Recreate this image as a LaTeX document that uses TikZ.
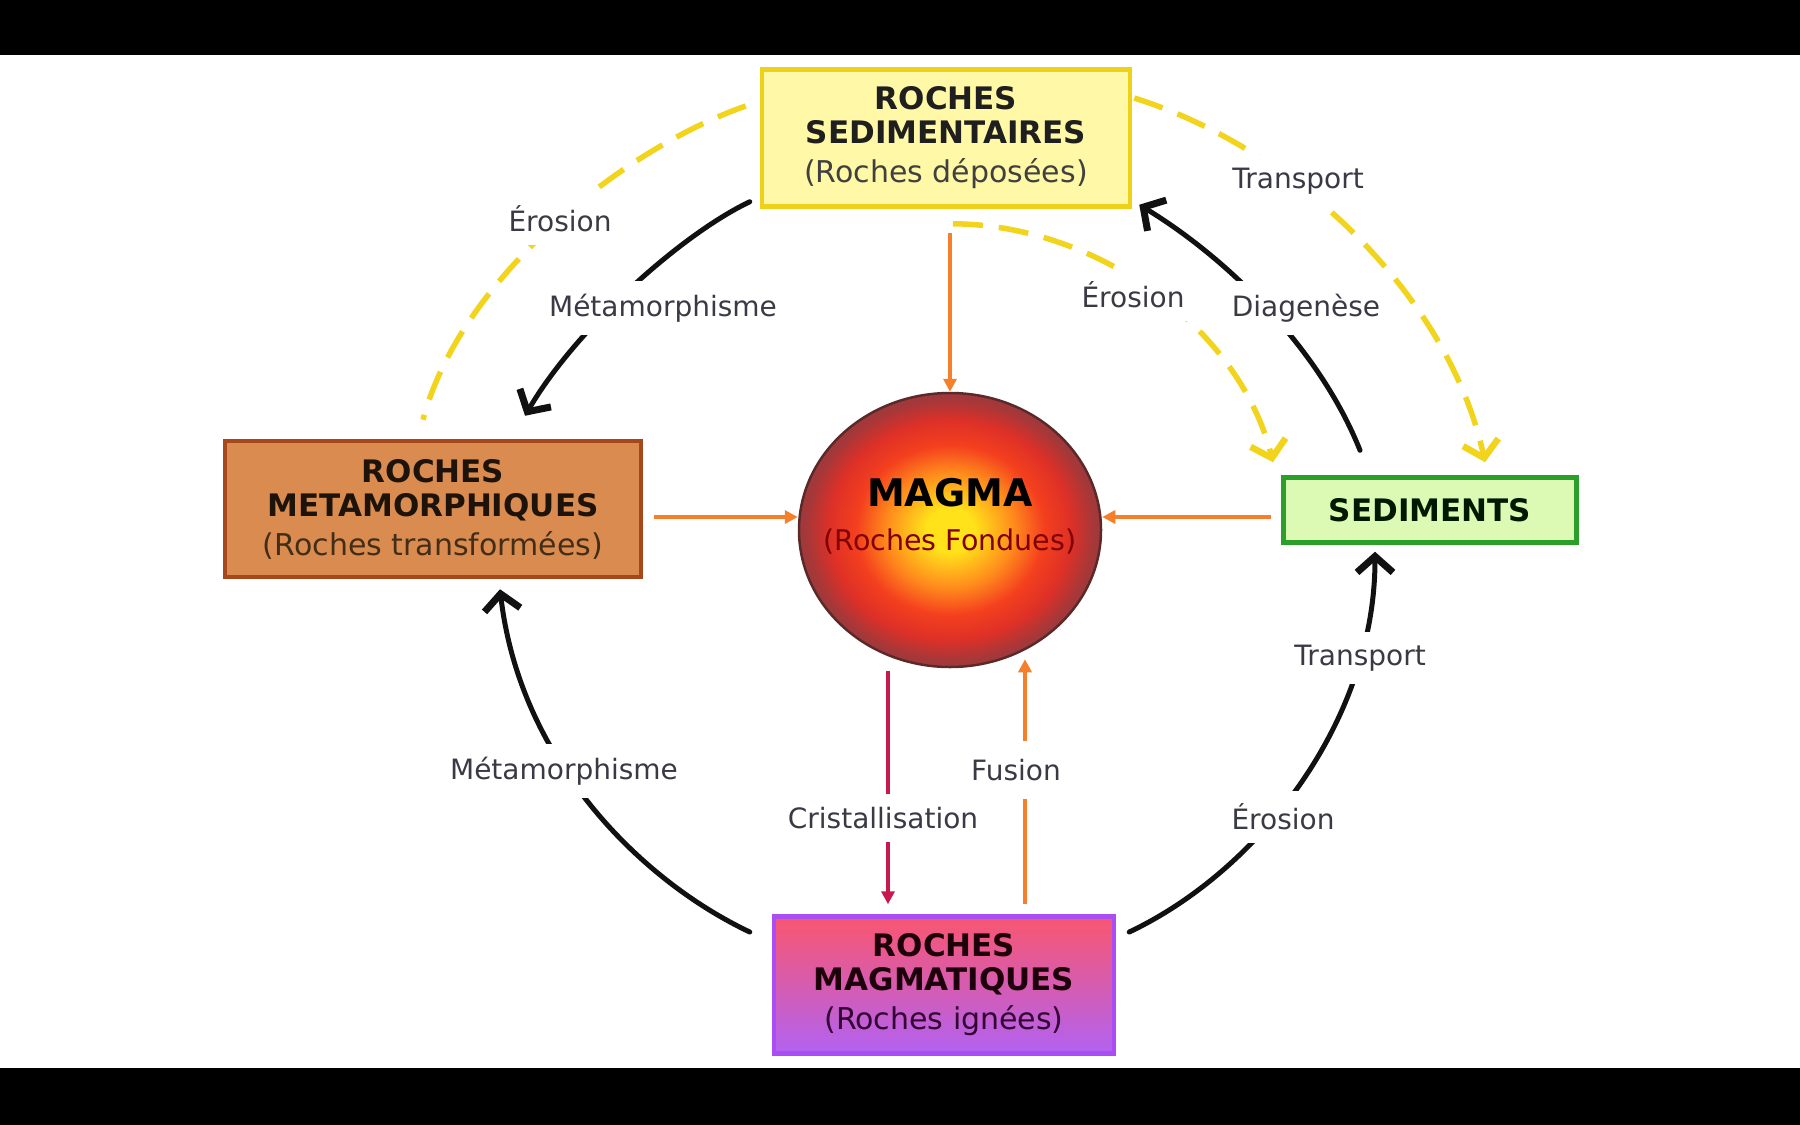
\documentclass[tikz,border=0pt]{standalone}
\usepackage{fontspec}
\setmainfont{DejaVu Sans}
\usetikzlibrary{shapes.geometric,arrows.meta,calc}
\definecolor{blk}{HTML}{111111}
\definecolor{yel}{HTML}{F2D41C}
\definecolor{org}{HTML}{F57F2A}
\definecolor{crim}{HTML}{C8194F}
\definecolor{labc}{HTML}{3A3A44}
\definecolor{sedfill}{HTML}{FFF8A6}
\definecolor{seddraw}{HTML}{EED21A}
\definecolor{metfill}{HTML}{DA8C50}
\definecolor{metdraw}{HTML}{A6481C}
\definecolor{sdfill}{HTML}{DCFAB4}
\definecolor{sddraw}{HTML}{2AA02A}
\definecolor{mgtop}{HTML}{F9566F}
\definecolor{mgmid}{HTML}{F0508F}
\definecolor{mgbot}{HTML}{B262F2}
\definecolor{mgdraw}{HTML}{A94EF5}
\definecolor{mY}{HTML}{FFE21A}
\definecolor{mO}{HTML}{FF8C1C}
\definecolor{mR}{HTML}{F4401E}
\definecolor{mR2}{HTML}{DE3027}
\definecolor{mD}{HTML}{A3383A}
\definecolor{mrim}{HTML}{5A2A2A}
\pgfdeclareradialshading{magmashade}{\pgfpoint{0bp}{0bp}}{color(0bp)=(mY); color(4bp)=(mY); color(10.5bp)=(mO); color(15.5bp)=(mR); color(20bp)=(mR2); color(24bp)=(mD); color(25bp)=(mD); color(50bp)=(mD)}
\newcommand{\ttlfont}{\fontsize{31}{34}\bfseries\selectfont}
\newcommand{\subfnt}{\fontsize{30}{34}\mdseries\selectfont}
\begin{document}
\begin{tikzpicture}[x=1pt,y=-1pt,
  lab/.style={fill=white, inner xsep=8pt, inner ysep=13pt, text=labc, font=\fontsize{28}{32}\selectfont},
  bk/.style={line width=5pt, draw=blk, line cap=round},
  bkarrow/.style={bk, -{Straight Barb[length=16pt,width=36pt,line width=7pt]}},
  yd/.style={line width=5.5pt, draw=yel, dash pattern=on 30pt off 16pt},
  ydarrow/.style={yd, -{Straight Barb[length=16pt,width=36pt,line width=6.5pt]}},
  oarrow/.style={line width=3.5pt, draw=org, -{Triangle[length=13pt,width=13pt]}},
  carrow/.style={line width=3.5pt, draw=crim, -{Triangle[length=13pt,width=13pt]}},
  rbox/.style={align=center, inner sep=0pt, line width=4.5pt, font=\ttlfont}
  ]
\useasboundingbox (0,0) rectangle (1800,1125);
\fill[white] (0,0) rectangle (1800,1125);
\fill[black] (0,0) rectangle (1800,55);
\fill[black] (0,1068) rectangle (1800,1125);

% boxes
\node[rbox, draw=seddraw, fill=sedfill, minimum width=368pt, minimum height=137pt, text=black!88] (sed) at (946,138)
  {ROCHES\\SEDIMENTAIRES\\[5pt]\subfnt\color{black!75}(Roches déposées)};
\node[rbox, draw=metdraw, fill=metfill, minimum width=416pt, minimum height=136pt, text=black!85!brown] (meta) at (433,509)
  {ROCHES\\METAMORPHIQUES\\[5pt]\subfnt\color{black!65!brown}(Roches transformées)};
\node[rbox, draw=sddraw, fill=sdfill, minimum width=293pt, minimum height=65pt, text=black!90!green] (sedim) at (1430,510)
  {SEDIMENTS};
\node[rbox, draw=mgdraw, top color=mgtop, middle color=mgmid, bottom color=mgbot, minimum width=340pt, minimum height=137pt, text=black!85!purple] (magm) at (944,985)
  {ROCHES\\MAGMATIQUES\\[5pt]\subfnt\color{black!60!violet}(Roches ignées)};
\node[ellipse, draw=mrim, line width=2.5pt, shading=magmashade, minimum width=302pt, minimum height=274pt] (magma) at (950,530) {};
\node[align=center, inner sep=0pt, font=\fontsize{38}{42}\bfseries\selectfont] (magmatxt) at (950,516)
  {MAGMA\\[2pt]\fontsize{28.5}{34}\mdseries\selectfont\color{black!50!red}(Roches Fondues)};

% yellow dashed
\draw[yd] ($(sed.west)+(-14,-32)$) .. controls (620,150) and (460,280) .. ($(meta.north)+(-10,-19)$);
\draw[ydarrow] ($(sed.east)+(2,-40)$) .. controls (1300,150) and (1450,300) .. ($(sedim.north)+(55,-13)$);
\draw[ydarrow] ($(sed.south)+(7,15)$) .. controls (1100,225) and (1240,330) .. ($(sedim.north)+(-157,-13)$);

% black arcs
\draw[bkarrow] ($(sed.south west)+(-10,-7)$) .. controls (680,235) and (575,330) .. ($(meta.north)+(92,-23)$);
\draw[bkarrow] ($(sedim.north)+(-70,-25)$) .. controls (1320,350) and (1230,260) .. ($(sed.south east)+(7,-4)$);
\draw[bkarrow] ($(magm.east)+(13,-53)$) .. controls (1260,870) and (1375,720) .. ($(sedim.south)+(-55,7)$);
\draw[bkarrow] ($(magm.west)+(-22,-53)$) .. controls (640,880) and (520,760) .. ($(meta.south)+(67,10)$);

% straight arrows
\draw[oarrow] ($(magma.north |- sed.south)+(0,24)$) -- (magma.north);
\draw[oarrow] ($(meta.east)+(11,8)$) -- ($(magma.west)+(0,-13)$);
\draw[oarrow] ($(sedim.west)+(-10,7)$) -- ($(magma.east)+(0,-13)$);
\draw[carrow] ($(magma.south)+(-62,3)$) -- ($(magm.north)+(-56,-10)$);
\draw[oarrow] ($(magm.north)+(81,-10)$) -- ($(magma.south)+(75,-9)$);

% labels
\node[lab] (l1) at (560,219) {Érosion};
\node[lab] (l2) at (663,308) {Métamorphisme};
\node[lab] (l3) at (1298,181) {Transport};
\node[lab] (l4) at (1133,295) {Érosion};
\node[lab] (l5) at (1306,308) {Diagenèse};
\node[lab] (l6) at (1360,658) {Transport};
\node[lab] (l7) at (1283,817) {Érosion};
\node[lab] (l8) at (564,771) {Métamorphisme};
\node[lab] (l9) at (883,818) {Cristallisation};
\node[lab, inner ysep=18pt] (l10) at (1016,770) {Fusion};
\end{tikzpicture}
\end{document}
